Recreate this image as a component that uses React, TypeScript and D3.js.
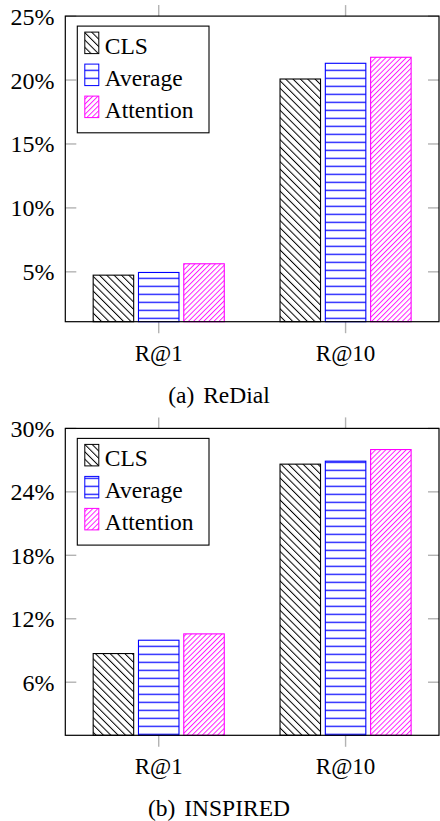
import React from "react";
import * as d3 from "d3";

const categories = ["R@1", "R@10"];
const seriesNames = ["CLS", "Average", "Attention"];

const redialCLS = [4.74, 20.08];
const redialAverage = [4.95, 21.31];
const redialAttention = [5.63, 21.78];

const inspiredCLS = [8.71, 26.62];
const inspiredAverage = [9.97, 26.9];
const inspiredAttention = [10.57, 28.0];

const redialTicks = [5, 10, 15, 20, 25];
const inspiredTicks = [6, 12, 18, 24, 30];
const redialDomain = [1.1, 25];
const inspiredDomain = [0.98, 30];

const FONT = "Liberation Serif, Tinos, Times New Roman, Times, DejaVu Serif, serif";
const COLORS = ["#000000", "#0000ff", "#ff00ff"];
const PATTERNS = ["patCLS", "patAvg", "patAtt"];

const W = 440;
const H = 821;
const LEFT = 65.3;
const RIGHT = 439;
const BAR_W = 40.5;
const BAR_STEP = 45.3;

type PanelProps = {
  top: number;
  bottom: number;
  domain: number[];
  ticks: number[];
  values: number[][];
  caption: string;
};

const txt = (size: number) => ({ fontFamily: FONT, fontSize: size + "px" });

function Panel({ top, bottom, domain, ticks, values, caption }: PanelProps) {
  const x = d3.scaleLinear().domain([-0.5, categories.length - 0.5]).range([LEFT, RIGHT]);
  const y = d3.scaleLinear().domain(domain).range([bottom, top]);
  const tickColor = "#b3b3b3";
  const legX = LEFT + 12;
  const legY = top + 10;
  return (
    <g>
      {ticks.map((t) => (
        <g key={"yt" + t}>
          <line x1={LEFT} x2={LEFT + 11} y1={y(t)} y2={y(t)} stroke={tickColor} strokeWidth={1.4} />
          <line x1={RIGHT - 11} x2={RIGHT} y1={y(t)} y2={y(t)} stroke={tickColor} strokeWidth={1.4} />
          <text x={54.5} y={y(t) + 8.5} textAnchor="end" style={txt(24)} fill="#000">
            {t}%
          </text>
        </g>
      ))}
      {categories.map((c, i) => (
        <g key={"xt" + c}>
          <line x1={x(i)} x2={x(i)} y1={bottom} y2={bottom + 11.5} stroke={tickColor} strokeWidth={1.4} />
          <line x1={x(i)} x2={x(i)} y1={top - 11} y2={top} stroke={tickColor} strokeWidth={1.4} />
          <text x={x(i)} y={bottom + 39} textAnchor="middle" style={txt(23)} fill="#000">
            {c}
          </text>
        </g>
      ))}
      {values.map((series, s) =>
        series.map((v, i) => {
          const cx = x(i) + (s - 1) * BAR_STEP;
          return (
            <rect
              key={"b" + s + "-" + i}
              x={cx - BAR_W / 2}
              y={y(v)}
              width={BAR_W}
              height={bottom - y(v)}
              fill={`url(#${PATTERNS[s]})`}
              stroke={COLORS[s]}
              strokeWidth={1.1}
            />
          );
        })
      )}
      <rect x={LEFT} y={top} width={RIGHT - LEFT} height={bottom - top} fill="none" stroke="#000" strokeWidth={1.2} />
      <rect x={legX} y={legY} width={131.7} height={106.7} fill="#fff" stroke="#000" strokeWidth={1.1} />
      {seriesNames.map((n, s) => {
        const ry = legY + 6 + s * 32;
        return (
          <g key={"lg" + n}>
            <rect
              x={legX + 7.5}
              y={ry}
              width={14}
              height={21.5}
              fill={`url(#${PATTERNS[s]})`}
              stroke={COLORS[s]}
              strokeWidth={1}
            />
            <text x={legX + 27.5} y={ry + 22} style={txt(23.5)} fill="#000">
              {n}
            </text>
          </g>
        );
      })}
      <text x={219} y={bottom + 81} textAnchor="middle" style={{ ...txt(23.5), wordSpacing: "3px" }} fill="#000">
        {caption}
      </text>
    </g>
  );
}

export default function App() {
  return (
    <svg
      width={W}
      height={H}
      viewBox={`0 0 ${W} ${H}`}
      style={{ position: "absolute", left: 0, top: 0, background: "#fff" }}
    >
      <defs>
        <pattern id="patCLS" patternUnits="userSpaceOnUse" width={5.2} height={20} patternTransform="rotate(-45)">
          <line x1={0.5} y1={-1} x2={0.5} y2={21} stroke="#000" strokeWidth={1} />
        </pattern>
        <pattern id="patAvg" patternUnits="userSpaceOnUse" width={20} height={8} y={5.7}>
          <line x1={-1} y1={0.6} x2={21} y2={0.6} stroke="#0000ff" strokeWidth={1.2} />
        </pattern>
        <pattern id="patAtt" patternUnits="userSpaceOnUse" width={3.6} height={20} patternTransform="rotate(45)">
          <line x1={0.5} y1={-1} x2={0.5} y2={21} stroke="#ff00ff" strokeWidth={0.9} />
        </pattern>
      </defs>
      <rect x={0} y={0} width={W} height={H} fill="#fff" />
      <Panel
        top={16.1}
        bottom={321.7}
        domain={redialDomain}
        ticks={redialTicks}
        values={[redialCLS, redialAverage, redialAttention]}
        caption="(a) ReDial"
      />
      <Panel
        top={428.4}
        bottom={735.3}
        domain={inspiredDomain}
        ticks={inspiredTicks}
        values={[inspiredCLS, inspiredAverage, inspiredAttention]}
        caption="(b) INSPIRED"
      />
    </svg>
  );
}
